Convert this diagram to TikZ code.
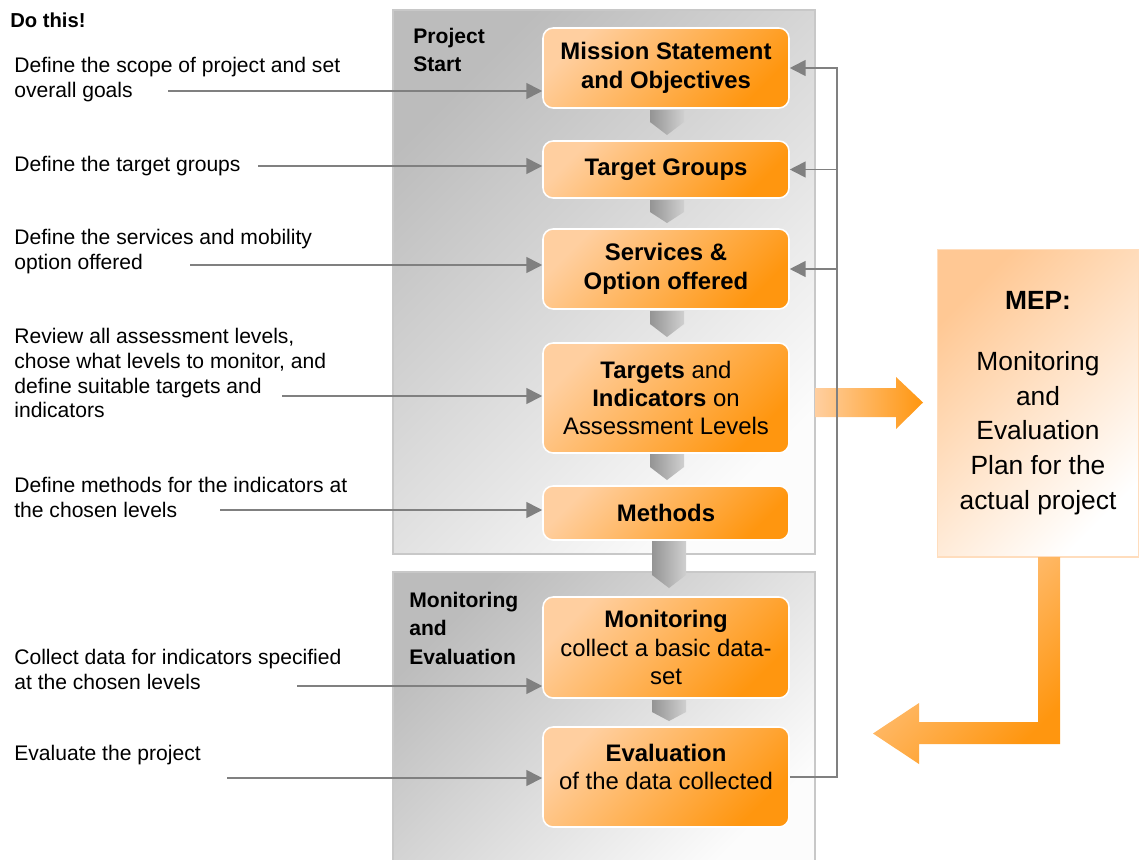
\documentclass[tikz,border=0pt]{standalone}
\usepackage{fontspec}
\setmainfont{Liberation Sans}
\usetikzlibrary{arrows.meta}
\definecolor{orL}{RGB}{255,207,160}
\definecolor{orD}{RGB}{255,150,15}
\definecolor{mepL}{RGB}{255,200,148}
\definecolor{panelD}{RGB}{188,188,188}
\definecolor{panelL}{RGB}{252,252,252}
\definecolor{panelB}{RGB}{200,200,200}
\definecolor{chevD}{RGB}{148,148,148}
\definecolor{chevL}{RGB}{208,208,208}
\definecolor{feedgray}{RGB}{128,128,128}
\newcommand{\drawchevron}[4]{\shade[left color=chevD, right color=chevL] (#1-17,#2)--++(34,0)--++(0,#3-#2)--(#1,#4)--(#1-17,#3)--cycle;}
\newcommand{\drawpanel}{\shade[draw=panelB, line width=0.9pt, top color=panelD, bottom color=panelL, shading angle=45]}
\tikzset{
  stage/.style={draw=white, line width=0.9pt, rounded corners=0.2cm, top color=orL, bottom color=orD, shading angle=45,
    minimum width=4.92cm, align=center, inner sep=0, font=\fontsize{13.6}{16}\selectfont},
  todo/.style={anchor=west, align=left, inner sep=0, font=\fontsize{12}{14.2}\selectfont},
  phase/.style={anchor=west, align=left, inner sep=0, font=\fontsize{12}{16.2}\selectfont\bfseries},
  feed/.style={line width=1pt, feedgray, -{Triangle[length=9pt,width=9pt]}}
}
\begin{document}
\begin{tikzpicture}[x=0.02cm, y=-0.02cm]
\useasboundingbox (0,0) rectangle (1139,859);
\drawpanel (393,10) rectangle (815,554);
\drawpanel (393,572) rectangle (815,870);
\node[phase] (start) at (413,50) {Project\\Start};
\node[phase] (mande) at (409,628) {Monitoring\\and\\Evaluation};
\drawchevron{667}{110}{122}{135}\drawchevron{667}{200}{212}{223}\drawchevron{667}{311}{324}{337}
\drawchevron{667}{454}{467}{480}\drawchevron{669}{541}{575}{588}\drawchevron{669}{700}{712}{721}
\node[stage, minimum height=1.6cm, font=\fontsize{13.6}{16.4}\selectfont\bfseries] (mission) at (666,68) {Mission Statement\\and Objectives};
\node[stage, minimum height=1.14cm, font=\fontsize{13.6}{16.4}\selectfont\bfseries] (groups) at (666,169.5) {Target Groups};
\node[stage, minimum height=1.6cm, font=\fontsize{13.6}{16.4}\selectfont\bfseries] (services) at (666,269) {Services \&\\Option offered};
\node[stage, minimum height=2.2cm] (targets) at (666,398) {\textbf{Targets} and\\\textbf{Indicators} on\\Assessment Levels};
\node[stage, minimum height=1.08cm, font=\fontsize{13.6}{16.4}\selectfont\bfseries] (methods) at (666,513) {Methods};
\node[stage, minimum height=2.02cm] (monitoring) at (666,647.5) {\textbf{Monitoring}\\collect a basic data-\\set};
\node[stage, minimum height=2cm] (evaluation) at (666,777) {\textbf{Evaluation}\\of the data collected\\[-4pt]\mbox{}};
% plan box and the two big arrows
\shade[left color=orL, right color=orD] (815,388)--++(81,0)--++(0,-11)--(923,402.5)--(896,429)--++(0,-12)--(815,417)--cycle;
\node[draw=orL!70!white, line width=0.6pt, top color=mepL, bottom color=white, shading angle=45, minimum width=4.04cm, minimum height=6.16cm,
  align=center, inner sep=0, font=\fontsize{15}{19.8}\selectfont] (mep) at (1038,403) {\textbf{MEP:}\\[15pt]Monitoring\\and\\Evaluation\\Plan for the\\actual project};
\shade[top color=orL, bottom color=orD, shading angle=45] (1038,557)--++(22,0)--++(0,187)--++(-141,0)--++(0,20)--(873,733.5)--(919,703)--++(0,19)--++(119,0)--cycle;
% what to do
\node[anchor=west, inner sep=0, font=\fontsize{11.5}{14}\selectfont\bfseries] (dothis) at (10,20) {Do this!};
\node[todo] (t1) at (14,80) {Define the scope of project and set\\overall goals};
\node[todo] (t2) at (14,166) {Define the target groups};
\node[todo] (t3) at (14,252) {Define the services and mobility\\option offered};
\node[todo] (t4) at (14,373) {Review all assessment levels,\\chose what levels to monitor, and\\define suitable targets and\\indicators};
\node[todo] (t5) at (14,497) {Define methods for the indicators at\\the chosen levels};
\node[todo] (t6) at (14,669) {Collect data for indicators specified\\at the chosen levels};
\node[todo] (t7) at (14,755) {Evaluate the project};
\coordinate (s1) at (168,91);\coordinate (s2) at (258,166);\coordinate (s3) at (190,265);\coordinate (s4) at (282,396);
\coordinate (s5) at (220,510);\coordinate (s6) at (297,686);\coordinate (s7) at (227,778);
\draw[feed] (s1) -- (s1 -| mission.west);
\draw[feed] (s2) -- (s2 -| groups.west);
\draw[feed] (s3) -- (s3 -| services.west);
\draw[feed] (s4) -- (s4 -| targets.west);
\draw[feed] (s5) -- (s5 -| methods.west);
\draw[feed] (s6) -- (s6 -| monitoring.west);
\draw[feed] (s7) -- (s7 -| evaluation.west);
% feedback
\coordinate (fb) at (837,777);
\draw[feed] (evaluation.east) -- (fb) -- (fb |- mission.east) -- (mission.east);
\draw[feed] (fb |- groups.east) -- (groups.east);
\draw[feed] (fb |- services.east) -- (services.east);
\end{tikzpicture}
\end{document}
